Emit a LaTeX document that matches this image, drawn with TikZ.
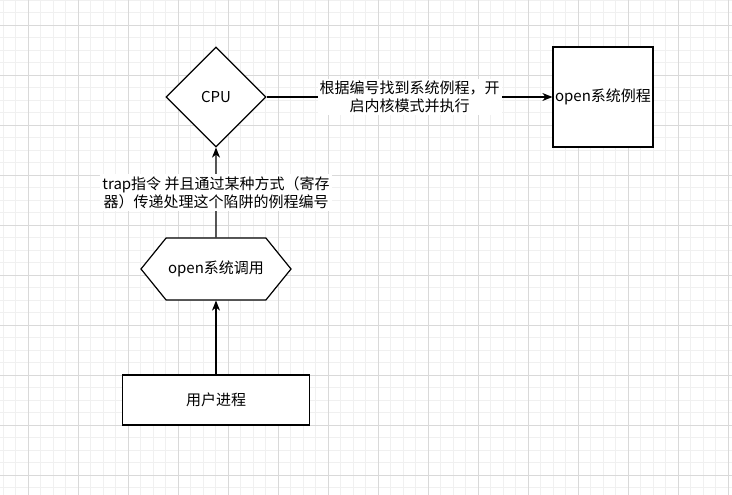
\documentclass[tikz,border=0pt]{standalone}
\usepackage{fontspec}
\setmainfont{Noto Sans CJK SC}
\usetikzlibrary{arrows.meta,shapes.geometric,shapes.symbols}

\tikzset{
  minorline/.style={draw=black!6, line width=0.8pt},
  majorline/.style={draw=black!15, line width=0.8pt},
  block/.style={
    draw,
    fill=white,
    line width=1.2pt,
    inner sep=0pt,
    font=\fontsize{15}{19}\selectfont
  },
  decision/.style={block, diamond, aspect=1, minimum width=100pt, minimum height=100pt},
  prep/.style={block, signal, signal to=west and east, signal pointer angle=102,
    minimum width=150pt, minimum height=62pt},
  task/.style={block, rectangle, minimum width=100pt, minimum height=100pt},
  flow/.style={line width=1.1pt, -{Stealth[length=10pt,width=8pt,inset=3pt]}},
  note/.style={
    fill=white,
    align=center,
    inner sep=2pt,
    font=\fontsize{15}{18}\selectfont
  }
}

\begin{document}
\begin{tikzpicture}[x=1pt, y=-1pt]
  \useasboundingbox[fill=white] (0,0) rectangle (732,495);

  % grid
  \foreach \x in {3,15.5,...,731} \draw[minorline] (\x,0) -- (\x,495);
  \foreach \y in {0,12.5,...,494} \draw[minorline] (0,\y) -- (732,\y);
  \foreach \x in {28,78,...,728} \draw[majorline] (\x,0) -- (\x,495);
  \foreach \y in {25,75,...,475} \draw[majorline] (0,\y) -- (732,\y);

  \node[decision] (cpu) at (216,97) {CPU};
  \node[task] (routine) at (603,97) {open系统例程};
  \node[prep] (call) at (216,269) {open系统调用};
  \node[block, minimum width=187pt, minimum height=50pt] (user) at (216,400) {用户进程};

  \draw[flow] (user) -- (call);
  \draw[flow] (call) -- node[note] {trap指令 并且通过某种方式（寄存\\器）传递处理这个陷阱的例程编号} (cpu);
  \draw[flow] (cpu) -- node[note] {根据编号找到系统例程，开\\启内核模式并执行} (routine);
\end{tikzpicture}
\end{document}
